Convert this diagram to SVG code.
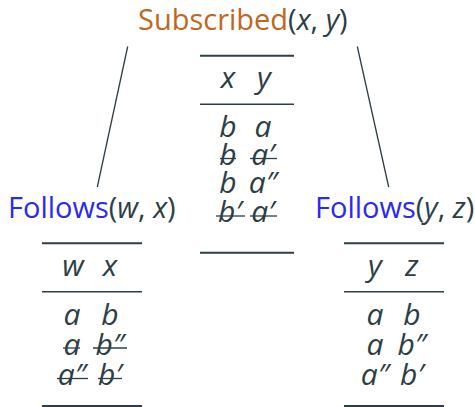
<svg xmlns="http://www.w3.org/2000/svg" width="475" height="407" viewBox="0 0 475 407">
<style>
text{font-family:"Open Sans","Noto Sans","DejaVu Sans",sans-serif;font-size:29px;fill:#2d3e46}
.m{font-style:italic;text-anchor:middle;font-size:30px}
.o{fill:#c0671f}
.b{fill:#2a2af0}
.rule{stroke:#2d3e46;stroke-width:2}
.thin{stroke:#2d3e46;stroke-width:1.5}
.st{stroke:#2d3e46;stroke-width:1.3}
.c{stroke:#2d3e46;stroke-width:1.3;fill:none}
</style>
<rect width="475" height="407" fill="#fff"/>
<g id="connectors">
<line class="c" x1="127.7" y1="46.5" x2="97.3" y2="187"/>
<line class="c" x1="357.3" y1="46.5" x2="388.7" y2="187"/>
</g>
<g id="subscribed">
<text x="138" y="30"><tspan class="o">Subscribed</tspan>(<tspan font-style="italic">x</tspan>, <tspan font-style="italic">y</tspan>)</text>
<line class="rule" x1="200" y1="55.7" x2="294" y2="55.7"/>
<text class="m" x="228" y="88">x</text><text class="m" x="264" y="88">y</text>
<line class="thin" x1="200" y1="104.3" x2="294" y2="104.3"/>
<text class="m" x="228" y="137">b</text><text class="m" x="263" y="137">a</text>
<text class="m" x="228" y="165">b</text><text class="m" x="263" y="165">a′</text>
<line class="st" x1="220" y1="158.5" x2="236" y2="158.5"/><line class="st" x1="250" y1="158.5" x2="277" y2="158.5"/>
<text class="m" x="228" y="193">b</text><text class="m" x="263" y="193">a″</text>
<text class="m" x="230" y="222">b′</text><text class="m" x="263" y="222">a′</text>
<line class="st" x1="216" y1="216" x2="245" y2="216"/><line class="st" x1="250" y1="216" x2="277" y2="216"/>
<line class="rule" x1="200" y1="252.7" x2="294" y2="252.7"/>
</g>
<g id="follows-wx">
<text x="8" y="218"><tspan class="b">Follows</tspan>(<tspan font-style="italic">w</tspan>, <tspan font-style="italic">x</tspan>)</text>
<line class="rule" x1="42" y1="243.3" x2="142" y2="243.3"/>
<text class="m" x="73" y="276">w</text><text class="m" x="110" y="276">x</text>
<line class="thin" x1="42" y1="291.7" x2="142" y2="291.7"/>
<text class="m" x="72" y="325">a</text><text class="m" x="110" y="325">b</text>
<text class="m" x="72" y="355">a</text><text class="m" x="110" y="355">b″</text>
<line class="st" x1="63" y1="348" x2="80" y2="348"/><line class="st" x1="93" y1="348" x2="127" y2="348"/>
<text class="m" x="72" y="385">a″</text><text class="m" x="110" y="385">b′</text>
<line class="st" x1="57" y1="378.5" x2="88" y2="378.5"/><line class="st" x1="98" y1="378.5" x2="122" y2="378.5"/>
<line class="rule" x1="42" y1="406" x2="142" y2="406"/>
</g>
<g id="follows-yz">
<text x="315" y="218"><tspan class="b">Follows</tspan>(<tspan font-style="italic">y</tspan>, <tspan font-style="italic">z</tspan>)</text>
<line class="rule" x1="344" y1="243.3" x2="444" y2="243.3"/>
<text class="m" x="375" y="276">y</text><text class="m" x="412" y="276">z</text>
<line class="thin" x1="344" y1="291.7" x2="444" y2="291.7"/>
<text class="m" x="375" y="325">a</text><text class="m" x="412" y="325">b</text>
<text class="m" x="375" y="355">a</text><text class="m" x="412" y="355">b″</text>
<text class="m" x="375" y="385">a″</text><text class="m" x="412" y="385">b′</text>
<line class="rule" x1="344" y1="406" x2="444" y2="406"/>
</g>
</svg>
